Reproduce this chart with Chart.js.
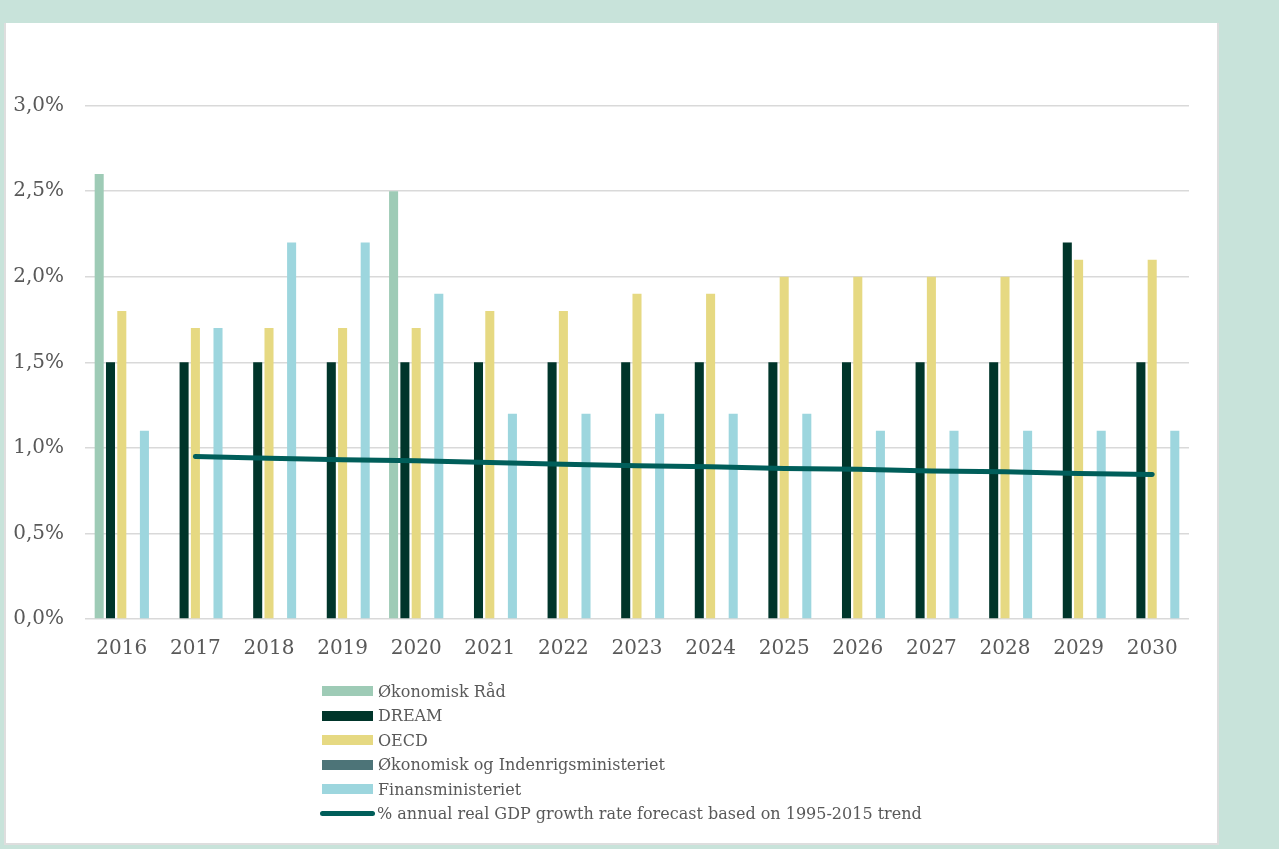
<!DOCTYPE html>
<html>
<head>
<meta charset="utf-8">
<script src="https://cdn.jsdelivr.net/npm/chart.js@4.4.1/dist/chart.umd.min.js"></script>
<style>
  html, body { margin: 0; padding: 0; }
  body { background: #c8e3da; width: 1279px; height: 849px; position: relative; overflow: hidden; }
  #panel { position: absolute; left: 4px; top: 23px; width: 1211px; height: 820px; background: #fff;
           border-left: 2px solid #dedede; border-right: 2px solid #dedede; border-bottom: 2px solid #dedede; }
  #chart { position: absolute; left: 0; top: 0; }
  #legend { position: absolute; left: 316px; top: 656px; font-family: "DejaVu Serif", serif; font-size: 16px; color: #595959; }
  #legend .row { height: 24.5px; display: flex; align-items: center; }
  #legend .sw { width: 51px; height: 10px; margin-right: 5px; }
  #legend .ln { width: 55px; height: 5px; border-radius: 3px; margin: 0 2px 0 -2px; }
</style>
</head>
<body>
<div id="panel">
  <canvas id="chart" width="1211" height="822"></canvas>
  <div id="legend"></div>
</div>
<script>
const years = ["2016", "2017", "2018", "2019", "2020", "2021", "2022", "2023",
               "2024", "2025", "2026", "2027", "2028", "2029", "2030"];

const oekonomiskRaad = [2.6, null, null, null, 2.5, null, null, null, null, null, null, null, null, null, null];
const dream          = [1.5, 1.5, 1.5, 1.5, 1.5, 1.5, 1.5, 1.5, 1.5, 1.5, 1.5, 1.5, 1.5, 2.2, 1.5];
const oecd           = [1.8, 1.7, 1.7, 1.7, 1.7, 1.8, 1.8, 1.9, 1.9, 2.0, 2.0, 2.0, 2.0, 2.1, 2.1];
const oim            = [null, null, null, null, null, null, null, null, null, null, null, null, null, null, null];
const finans         = [1.1, 1.7, 2.2, 2.2, 1.9, 1.2, 1.2, 1.2, 1.2, 1.2, 1.1, 1.1, 1.1, 1.1, 1.1];
const trend          = [null, 0.95, 0.94, 0.93, 0.925, 0.915, 0.905, 0.895, 0.89, 0.88, 0.875, 0.865, 0.86, 0.85, 0.845];

const yTicks = [0, 0.5, 1.0, 1.5, 2.0, 2.5, 3.0];

const fontFamily = "'DejaVu Serif', serif";
const textColor = "#595959";

function bar(label, data, color) {
    return {
        type: "bar",
        label: label,
        data: data,
        backgroundColor: color,
        borderWidth: 0,
        barPercentage: 0.8,
        categoryPercentage: 0.768,
        order: 1
    };
}

const ctx = document.getElementById("chart").getContext("2d");
const chart = new Chart(ctx, {
    data: {
        labels: years,
        datasets: [
            bar("Økonomisk Råd", oekonomiskRaad, "#9ecbb6"),
            bar("DREAM", dream, "#00352a"),
            bar("OECD", oecd, "#e6d982"),
            bar("Økonomisk og Indenrigsministeriet", oim, "#4d7478"),
            bar("Finansministeriet", finans, "#9dd6de"),
            {
                type: "line",
                label: "% annual real GDP growth rate forecast based on 1995-2015 trend",
                data: trend,
                borderColor: "#005e5a",
                backgroundColor: "#005e5a",
                borderWidth: 5,
                borderCapStyle: "round",
                pointRadius: 0,
                tension: 0,
                fill: false,
                order: 0
            }
        ]
    },
    options: {
        responsive: false,
        animation: false,
        layout: { padding: { left: 0, right: 28, top: 13.5, bottom: 186 } },
        plugins: {
            legend: { display: false },
            tooltip: { enabled: false }
        },
        scales: {
            x: {
                grid: { display: false, drawTicks: false },
                border: { display: false },
                ticks: {
                    color: textColor,
                    font: { family: fontFamily, size: 20 },
                    padding: 18,
                    maxRotation: 0
                },
                afterFit: scale => { scale.height = 40; }
            },
            y: {
                min: 0,
                max: 3.29,
                grid: { color: "#d9d9d9", lineWidth: 1.5, drawTicks: false },
                border: { display: false },
                ticks: {
                    color: textColor,
                    font: { family: fontFamily, size: 20 },
                    padding: 21,
                    callback: v => v.toFixed(1).replace(".", ",") + "%"
                },
                afterBuildTicks: scale => {
                    scale.ticks = yTicks.map(v => ({ value: v }));
                },
                afterFit: scale => { scale.width = 79; }
            }
        }
    }
});

// legend as a plain list, one entry per row
const legendEl = document.getElementById("legend");
chart.data.datasets.forEach(ds => {
    const row = document.createElement("div");
    row.className = "row";
    const sw = document.createElement("span");
    sw.className = ds.type === "line" ? "ln" : "sw";
    sw.style.background = ds.type === "line" ? ds.borderColor : ds.backgroundColor;
    const txt = document.createElement("span");
    txt.textContent = ds.label;
    row.appendChild(sw);
    row.appendChild(txt);
    legendEl.appendChild(row);
});
</script>
</body>
</html>
